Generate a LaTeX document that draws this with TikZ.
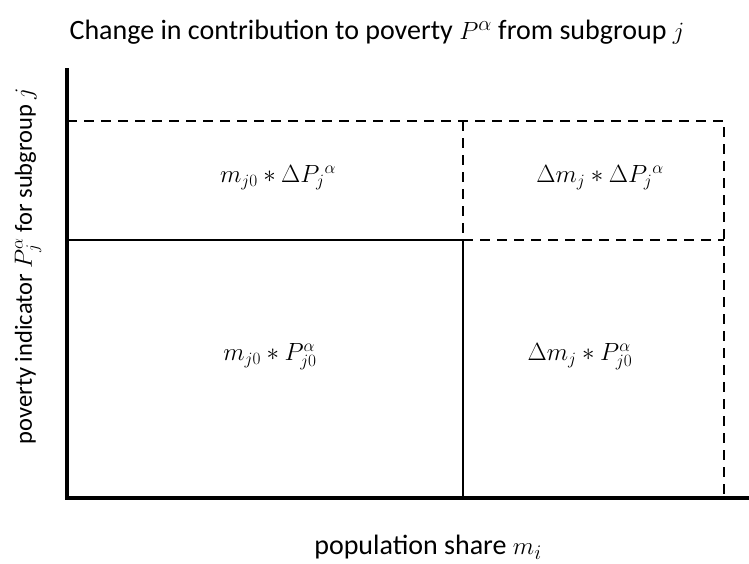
\documentclass[tikz,border=0pt]{standalone}
\usepackage{fontspec}
\setmainfont{Carlito}
\newcommand{\titlemath}[1]{{\fontsize{31}{34}\selectfont$#1$}}
\newcommand{\ylabmath}[1]{{\fontsize{27}{30}\selectfont$#1$}}
\tikzset{
  axis/.style={line width=3.2pt},
  solidline/.style={line width=2.4pt},
  dashline/.style={line width=2.4pt, dash pattern=on 10pt off 7pt},
  lbl/.style={font=\fontsize{28}{32}\selectfont, inner sep=0pt},
  ylbl/.style={font=\fontsize{24.5}{28}\selectfont, inner sep=0pt},
  cell/.style={font=\fontsize{25}{28}\selectfont, inner sep=0pt}
}
\begin{document}
\begin{tikzpicture}[x=1pt,y=-1pt]
\useasboundingbox (0,0) rectangle (749,563);
% reference coordinates
\coordinate (O) at (67,498);
\coordinate (Ytop) at (67,70);
\coordinate (Xend) at (749,498);
\coordinate (TL) at (67,121);
\coordinate (TR) at (724,121);
\coordinate (BR) at (724,498);
\coordinate (ML) at (67,240);
\coordinate (MM) at (463,240);
\coordinate (MR) at (724,240);
\coordinate (TM) at (463,121);
\coordinate (BM) at (463,498);
% dashed lines
\draw[dashline] (TL) -- (TR) -- (BR);
\draw[dashline] (MM) -- (MR);
\draw[dashline] (TM) -- (MM);
% solid lines
\draw[solidline] (ML) -- (MM) -- (BM);
% axes
\draw[axis, line cap=rect] (Ytop) -- (O) -- (Xend);
% texts
\node[lbl] (title) at (377,32) {Change in contribution to poverty \titlemath{P^{\alpha}} from subgroup \titlemath{j}};
\node[ylbl, rotate=90] (ylab) at (28,266) {poverty indicator \ylabmath{P_j^{\alpha}} for subgroup \ylabmath{j}};
\node[lbl] (xlab) at (428,547) {population share \titlemath{m_i}};
\node[cell] (c1) at (278,178) {$m_{j0} * \Delta P_j{}^{\alpha}$};
\node[cell] (c2) at (600,178) {$\Delta m_j * \Delta P_j{}^{\alpha}$};
\node[cell] (c3) at (270,357) {$m_{j0} * P_{j0}^{\alpha}$};
\node[cell] (c4) at (580,357) {$\Delta m_j * P_{j0}^{\alpha}$};
\end{tikzpicture}
\end{document}
